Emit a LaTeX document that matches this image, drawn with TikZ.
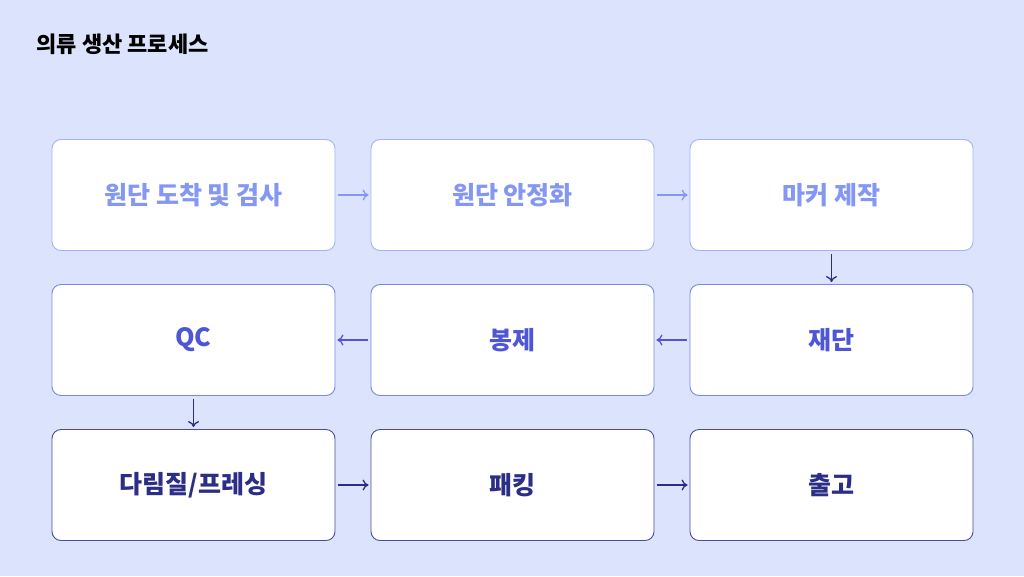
\documentclass[tikz,border=0pt]{standalone}
\usepackage{fontspec}
\setmainfont{Noto Sans CJK KR}
\usetikzlibrary{arrows.meta}
\definecolor{bg}{HTML}{DCE4FD}
\definecolor{bA}{HTML}{A3B3F7}\definecolor{tA}{HTML}{8497F2}
\definecolor{bB}{HTML}{7B86E6}\definecolor{tB}{HTML}{4F56D6}
\definecolor{bC}{HTML}{4A4C9E}\definecolor{tC}{HTML}{2C2D85}
\begin{document}
\begin{tikzpicture}[x=1pt,y=-1pt,
  box/.style={draw,fill=white,rounded corners=9pt,minimum width=283pt,minimum height=111pt,inner sep=0pt,line width=0.9pt,font=\fontsize{25}{28}\selectfont\bfseries},
  rA/.style={box,draw=bA,text=tA},rB/.style={box,draw=bB,text=tB},rC/.style={box,draw=bC,text=tC},
  ar/.style={-{To[length=6pt,width=11pt]},line width=1.3pt,shorten >=2pt,shorten <=3pt}]
\fill[bg] (0,0) rectangle (1024,576);
\useasboundingbox (0,0) rectangle (1024,576);
\node[anchor=west,font=\fontsize{22}{26}\selectfont\bfseries] (t) at (33,44) {의류 생산 프로세스};
\node[rA] (a1) at (193.5,195) {원단 도착 및 검사};
\node[rA] (a2) at (512.5,195) {원단 안정화};
\node[rA] (a3) at (831.5,195) {마커 제작};
\node[rB] (b1) at (193.5,340) {QC};
\node[rB] (b2) at (512.5,340) {봉제};
\node[rB] (b3) at (831.5,340) {재단};
\node[rC] (c1) at (193.5,485) {다림질/프레싱};
\node[rC] (c2) at (512.5,485) {패킹};
\node[rC] (c3) at (831.5,485) {출고};
\draw[ar,tA] (a1) -- (a2); \draw[ar,tA] (a2) -- (a3);
\draw[ar,tC] (a3) -- (b3);
\draw[ar,tB] (b3) -- (b2); \draw[ar,tB] (b2) -- (b1);
\draw[ar,tC] (b1) -- (c1);
\draw[ar,tC] (c1) -- (c2); \draw[ar,tC] (c2) -- (c3);
\end{tikzpicture}
\end{document}
